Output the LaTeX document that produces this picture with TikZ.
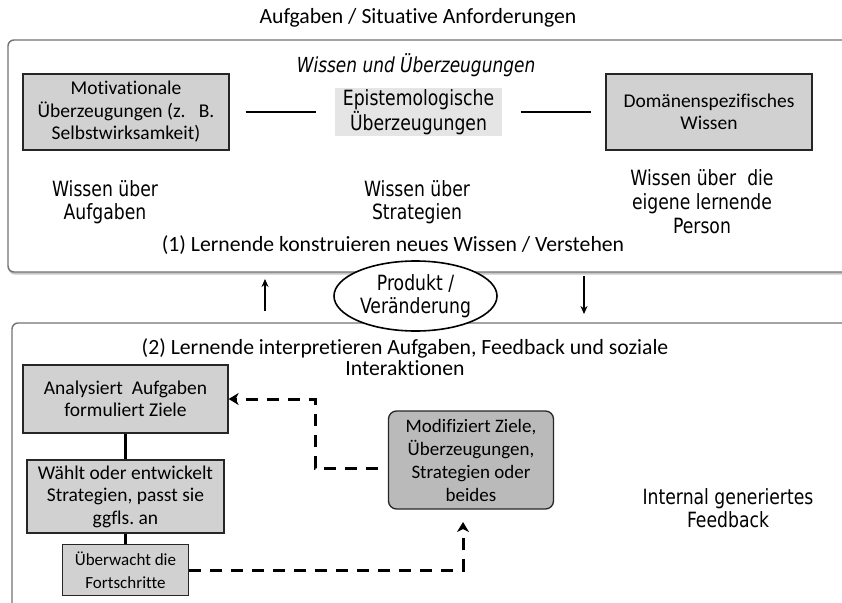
\documentclass[tikz,border=0pt]{standalone}
\usepackage{fontspec}
\setmainfont[Ligatures={NoCommon}]{Carlito}
\newfontfamily\narrowfont[FakeStretch=0.82]{DejaVu Sans}
\usetikzlibrary{positioning,arrows.meta,shapes.geometric,shadows}
\frenchspacing

\begin{document}
\begin{tikzpicture}[x=1pt, y=-1pt,
  every node/.style={align=center, inner sep=0pt},
  frame/.style={draw=black!55, line width=1.4pt, rounded corners=6pt, fill=white,
    drop shadow={shadow xshift=0.5pt, shadow yshift=-2.5pt, opacity=0.45}},
  box/.style={draw=black!85, line width=1.3pt, fill=black!18, font=\fontsize{19.5}{22.5}\selectfont},
  narrowtxt/.style={font=\narrowfont\fontsize{21}{23}\selectfont},
  bigtxt/.style={font=\fontsize{21.7}{21}\selectfont},
  conn/.style={line width=2.2pt},
  dashconn/.style={line width=3pt, dash pattern=on 12pt off 9pt,
    -{Stealth[length=10pt,width=12pt,inset=3pt]}}]

\useasboundingbox (0,0) rectangle (842,602);

% Outer frames
\path[frame] (8,40) rectangle (890,272);
\path[frame] (12,323) rectangle (890,660);

\node[bigtxt] (title) at (418,18) {Aufgaben / Situative Anforderungen};

% Upper frame: knowledge and beliefs
\node[font=\narrowfont\itshape\fontsize{20.7}{23}\selectfont] (wissen) at (416,65) {Wissen und Überzeugungen};

\node[box, minimum width=206pt, minimum height=76pt] (motiv) at (126,112) {Motivationale\\Überzeugungen (z.\ \ \ B.\\Selbstwirksamkeit)};
\node[box, draw=none, fill=black!10, minimum width=167pt, minimum height=48pt,
  font=\narrowfont\fontsize{21}{23}\selectfont] (epist) at (418.5,112) {Epistemologische\\Überzeugungen};
\node[box, minimum width=206pt, minimum height=76pt] (domaen) at (709,112) {Domänenspezifisches\\Wissen};

\draw[conn, shorten <=16pt, shorten >=18pt] (motiv) -- (epist);
\draw[conn, shorten <=18pt, shorten >=14pt] (epist) -- (domaen);

\node[narrowtxt] (wAufg) at (105,202) {Wissen über\\Aufgaben};
\node[narrowtxt] (wStrat) at (417,202) {Wissen über\\Strategien};
\node[narrowtxt, font=\narrowfont\fontsize{21}{24}\selectfont] (wPers) at (702,202) {Wissen über\ \ die\\eigene lernende\\Person};
\node[bigtxt] (konstr) at (393,245) {(1) Lernende konstruieren neues Wissen / Verstehen};

% Exchange between the two frames
\coordinate (up1) at (265,311);
\coordinate (up2) at (265,279);
\coordinate (dn1) at (584,276);
\coordinate (dn2) at (584,314);
\draw[line width=2pt, -{Stealth[length=8pt,width=7pt]}] (up1) -- (up2);
\draw[line width=2pt, -{Stealth[length=8pt,width=7pt]}] (dn1) -- (dn2);

\node[ellipse, draw, line width=1.6pt, fill=white, minimum width=163pt, minimum height=70pt,
  narrowtxt] (produkt) at (415.5,296) {Produkt /\\Veränderung};

% Lower frame: interpretation
\node[bigtxt] (interp) at (405,357) {(2) Lernende interpretieren Aufgaben, Feedback und soziale\\Interaktionen};

\node[box, minimum width=205pt, minimum height=68pt] (analys) at (125.5,399) {Analysiert\ \ Aufgaben\\formuliert Ziele};
\node[box, minimum width=197pt, minimum height=73pt] (waehlt) at (125.5,496.5) {Wählt oder entwickelt\\Strategien, passt sie\\ggfls. an};
\node[box, minimum width=126pt, minimum height=51pt, font=\fontsize{17}{23}\selectfont] (ueberw) at (125.5,570) {Überwacht die\\Fortschritte};
\node[box, rounded corners=8pt, fill=black!27, minimum width=165pt, minimum height=98pt,
  font=\fontsize{19}{23}\selectfont] (modif) at (471,460) {Modifiziert Ziele,\\Überzeugungen,\\Strategien oder\\beides};
\node[narrowtxt] (intern) at (728,508) {Internal generiertes\\Feedback};

\draw[conn] (analys) -- (waehlt);
\draw[conn] (waehlt) -- (ueberw);

% Dashed feedback loops
\coordinate (m1) at (378,468);
\coordinate (k1) at (315,468);
\coordinate (m2) at (463,522);
\draw[dashconn] (m1) -- (k1) |- (analys.east);
\draw[dashconn] (ueberw.east) -| (m2);
\end{tikzpicture}
\end{document}
